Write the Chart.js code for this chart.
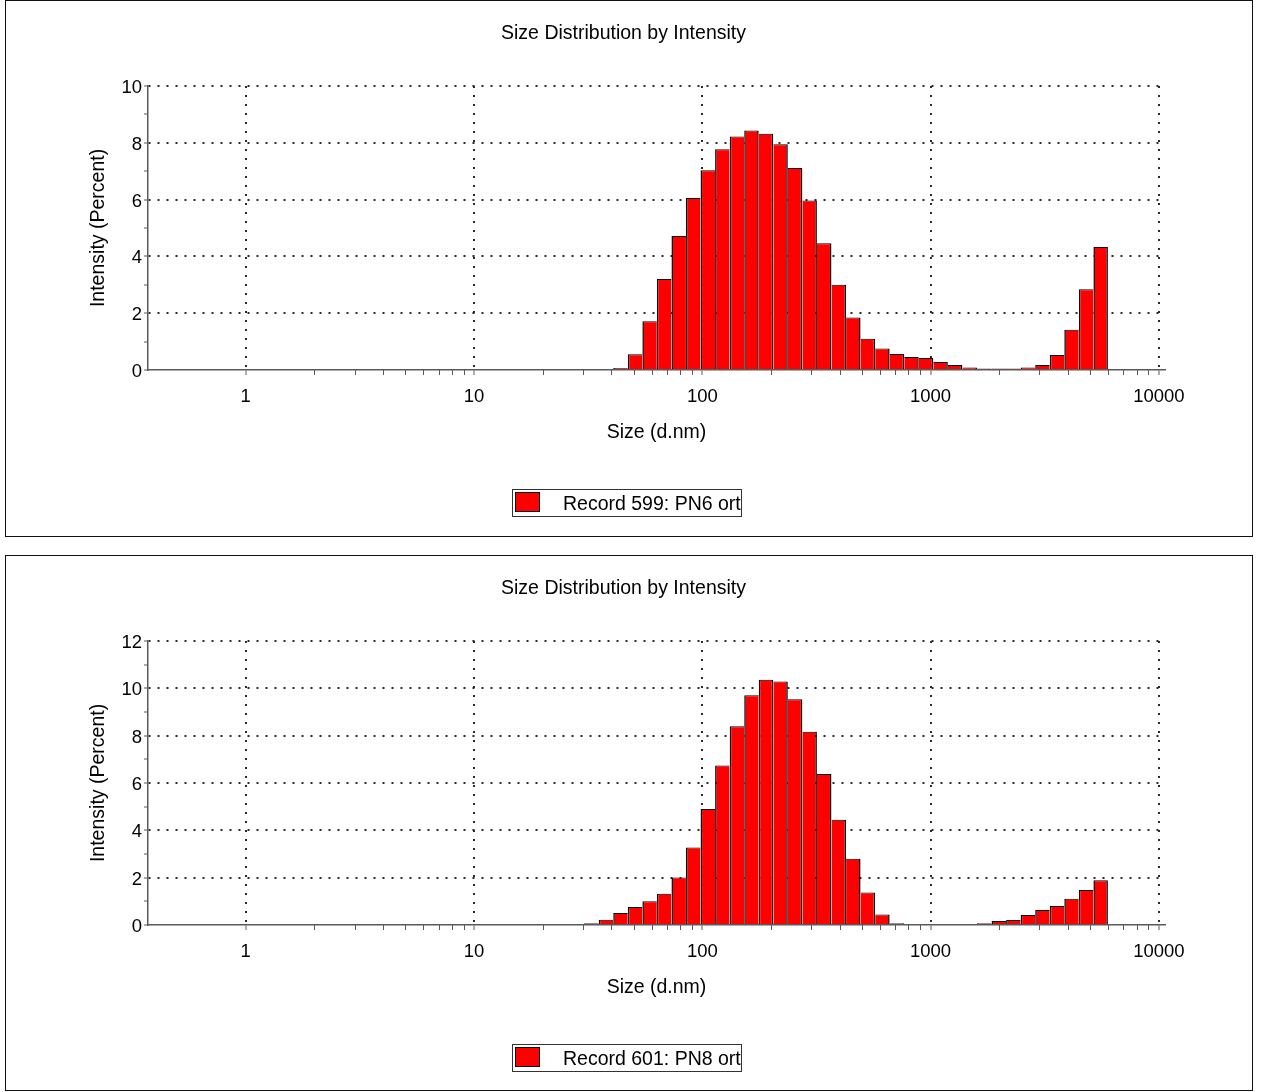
<!DOCTYPE html>
<html>
<head>
<meta charset="utf-8">
<title>Size Distribution by Intensity</title>
<script src="https://cdn.jsdelivr.net/npm/chart.js@4.4.1/dist/chart.umd.min.js"></script>
<style>
  body { margin: 0; background: #fff; font-family: 'Liberation Sans', Arial, sans-serif; }
  .panel { position: absolute; left: 5px; width: 1248px; box-sizing: border-box; border: 1px solid #111; background: #fff; }
  .panel canvas { position: absolute; left: 0; top: 0; }
  .legend { position: absolute; left: 506px; top: 488px; width: 230px; height: 28px; box-sizing: border-box;
            border: 1px solid #333; font-size: 19.5px; line-height: 26px; white-space: nowrap; color: #000; }
  .legend .swatch { position: absolute; left: 2px; top: 2px; width: 25px; height: 20px; box-sizing: border-box;
                    background: #ff0000; border: 1px solid #000; }
  .legend .txt { position: absolute; left: 50px; top: 0; }
</style>
</head>
<body>
<div class="panel" style="top:0; height:537px;">
  <canvas id="chartPN6" width="1246" height="534"></canvas>
  <div class="legend"><span class="swatch"></span><span class="txt" id="legendPN6"></span></div>
</div>
<div class="panel" style="top:555px; height:536px;">
  <canvas id="chartPN8" width="1246" height="534"></canvas>
  <div class="legend"><span class="swatch"></span><span class="txt" id="legendPN8"></span></div>
</div>
<script>
// size classes (d.nm), bin centres
const sizes = [
  0.4, 0.4632, 0.5365, 0.6213, 0.7195, 0.8332, 0.9649, 1.117, 1.294, 1.499,
  1.736, 2.010, 2.328, 2.696, 3.122, 3.615, 4.187, 4.849, 5.615, 6.503,
  7.531, 8.721, 10.10, 11.70, 13.54, 15.69, 18.17, 21.04, 24.36, 28.21,
  32.67, 37.84, 43.82, 50.75, 58.77, 68.06, 78.82, 91.28, 105.7, 122.4,
  141.8, 164.2, 190.1, 220.2, 255.0, 295.3, 342.0, 396.1, 458.7, 531.2,
  615.1, 712.4, 825.0, 955.4, 1106, 1281, 1484, 1718, 1990, 2305,
  2669, 3091, 3580, 4145, 4801, 5560, 6439, 7456, 8635, 10000
];

// intensity (%) per size class
const intensityPN6 = [
  0, 0, 0, 0, 0, 0, 0, 0, 0, 0,
  0, 0, 0, 0, 0, 0, 0, 0, 0, 0,
  0, 0, 0, 0, 0, 0, 0, 0, 0, 0,
  0, 0, 0.07, 0.55, 1.72, 3.20, 4.72, 6.05, 7.03, 7.77,
  8.22, 8.43, 8.32, 7.95, 7.11, 5.97, 4.46, 3.00, 1.85, 1.10,
  0.76, 0.56, 0.46, 0.42, 0.28, 0.18, 0.09, 0.05, 0.05, 0.05,
  0.09, 0.18, 0.53, 1.42, 2.84, 4.33, 0, 0, 0, 0
];
const intensityPN8 = [
  0, 0, 0, 0, 0, 0, 0, 0, 0, 0,
  0, 0, 0, 0, 0, 0, 0, 0, 0, 0,
  0, 0, 0, 0, 0, 0, 0, 0, 0, 0,
  0.07, 0.22, 0.51, 0.76, 1.00, 1.32, 2.01, 3.27, 4.90, 6.74,
  8.40, 9.70, 10.36, 10.29, 9.54, 8.16, 6.38, 4.45, 2.80, 1.37,
  0.44, 0.07, 0, 0, 0, 0, 0, 0.07, 0.17, 0.21,
  0.42, 0.63, 0.80, 1.11, 1.48, 1.89, 0, 0, 0, 0
];

const xTickValues = [1, 10, 100, 1000, 10000];
const yMaxPN6 = 10;
const yMaxPN8 = 12;
const legendPN6 = 'Record 599: PN6 ort';
const legendPN8 = 'Record 601: PN8 ort';

const FONT = "'Liberation Sans', Arial, sans-serif";
const AXIS_GREY = '#5a5a5a';
const GRID_DOTS = '#2a2a2a';

// outline only the taller side of each shared edge so neighbours get a single divider
function edgeWidths(ctx) {
  const i = ctx.dataIndex;
  if (i === undefined) return 1;
  const v = ctx.dataset.data;
  const cur = v[i], prev = v[i - 1] ?? 0, next = v[i + 1] ?? 0;
  return { top: 1, bottom: 0, left: prev <= cur ? 1.5 : 0, right: next < cur ? 1.5 : 0 };
}

// small tick marks at 2..9 of every decade on the size axis
const minorTicks = {
  id: 'minorTicks',
  afterDraw(chart) {
    const { ctx, chartArea, scales: { x } } = chart;
    ctx.save();
    ctx.strokeStyle = AXIS_GREY;
    ctx.lineWidth = 1;
    ctx.beginPath();
    for (let d = 1; d < 10000; d *= 10) {
      for (let m = 2; m <= 9; m++) {
        const px = Math.round(x.getPixelForValue(m * d)) + 0.5;
        ctx.moveTo(px, chartArea.bottom);
        ctx.lineTo(px, chartArea.bottom + 5);
      }
    }
    ctx.stroke();
    ctx.restore();
  }
};

function drawPanel(canvasId, values, yMax) {
  return new Chart(document.getElementById(canvasId), {
    type: 'bar',
    data: {
      labels: sizes,
      datasets: [{
        data: values,
        backgroundColor: '#ff0000',
        borderColor: '#000',
        borderWidth: edgeWidths,
        borderSkipped: false,
        categoryPercentage: 1,
        barPercentage: 1,
        inflateAmount: 0
      }]
    },
    options: {
      responsive: false,
      animation: false,
      events: [],
      layout: { padding: { left: 76, right: 87, top: 0, bottom: 85 } },
      plugins: {
        legend: { display: false },
        tooltip: { enabled: false },
        title: {
          display: true,
          text: 'Size Distribution by Intensity',
          color: '#000',
          font: { family: FONT, size: 19.5, weight: 'normal', lineHeight: 1.2 },
          padding: { top: 20.5, bottom: 41 }
        }
      },
      scales: {
        x: {
          type: 'logarithmic',
          bounds: 'data',
          min: 0.373,
          max: 10640,
          offset: false,
          afterBuildTicks: (s) => { s.ticks = xTickValues.map(v => ({ value: v, major: true })); },
          afterFit: (s) => { s.height = 80; },
          ticks: {
            autoSkip: false, maxRotation: 0, padding: 11, color: '#000',
            font: { family: FONT, size: 18.5 },
            callback: (v) => String(v)
          },
          grid: { offset: false, color: GRID_DOTS, lineWidth: 2, tickLength: 5, tickColor: AXIS_GREY, tickWidth: 1 },
          border: { color: AXIS_GREY, width: 1.5, dash: [2, 7] },
          title: {
            display: true, text: 'Size (d.nm)', color: '#000',
            font: { family: FONT, size: 19.5, lineHeight: 1.2 },
            padding: { top: 4, bottom: 6 }
          }
        },
        y: {
          min: 0,
          max: yMax,
          afterFit: (s) => { s.width = 66; },
          ticks: {
            stepSize: 1, autoSkip: false, padding: 2, labelOffset: 2, color: '#000',
            font: { family: FONT, size: 18.5 },
            callback: (v) => (v % 2 === 0 ? v : '')
          },
          grid: {
            color: (ctx) => (ctx.tick && ctx.tick.value > 0 && ctx.tick.value % 2 === 0 ? GRID_DOTS : 'rgba(0,0,0,0)'),
            lineWidth: 2, tickLength: 4, tickColor: AXIS_GREY, tickWidth: 1
          },
          border: { color: AXIS_GREY, width: 1.5, dash: [2, 7] },
          title: {
            display: true, text: 'Intensity (Percent)', color: '#000',
            font: { family: FONT, size: 19.5, lineHeight: 1.2 },
            padding: { top: 4.5, bottom: 4 }
          }
        }
      }
    },
    plugins: [minorTicks]
  });
}

drawPanel('chartPN6', intensityPN6, yMaxPN6);
drawPanel('chartPN8', intensityPN8, yMaxPN8);
document.getElementById('legendPN6').textContent = legendPN6;
document.getElementById('legendPN8').textContent = legendPN8;
</script>
</body>
</html>
